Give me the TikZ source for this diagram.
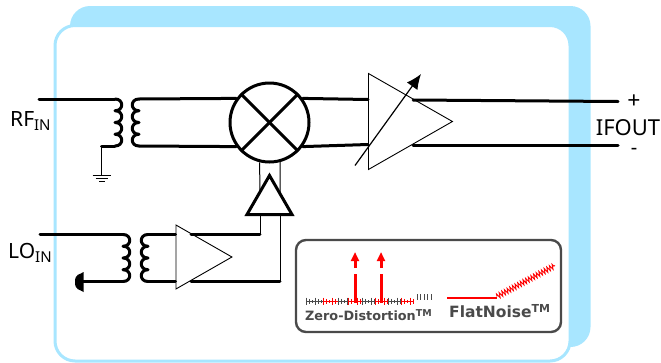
\documentclass[tikz,border=0pt]{standalone}
\usepackage{fontspec}
\setmainfont{Noto Sans}
\newfontfamily\boxfont{DejaVu Sans}
\usetikzlibrary{arrows.meta}
\usetikzlibrary{shapes.geometric}
\usetikzlibrary{decorations.pathmorphing}
\definecolor{chipblue}{HTML}{A8E6FF}
\definecolor{boxgray}{HTML}{4A4A4A}
\newcommand{\insub}[1]{{\fontsize{15}{15}\selectfont\raisebox{-4pt}{#1}}}
\tikzset{
	wire/.style={line width=3pt,line cap=round,line join=round},
	thinwire/.style={line width=1pt},
	amp/.style={draw,line width=.9pt,isosceles triangle,isosceles triangle stretches,inner sep=0pt,anchor=lower side},
	label/.style={inner sep=0pt,font=\fontsize{22}{22}\selectfont},
	boxlabel/.style={inner sep=0pt,text=boxgray,font=\boxfont\bfseries},
	coil/.pic={
		\draw[wire] (0,0)
			.. controls (9,0) and (9,11.75) .. (0,11.75)
			.. controls (9,11.75) and (9,23.5) .. (0,23.5)
			.. controls (9,23.5) and (9,35.25) .. (0,35.25)
			.. controls (9,35.25) and (9,47) .. (0,47);
		\coordinate (-a) at (0,0);
		\coordinate (-b) at (0,47);
	}
}
\begin{document}
\begin{tikzpicture}
	[x=1pt,y=-1pt]
	\useasboundingbox (0,0) rectangle (661,362);
	\fill[chipblue,rounded corners=20pt] (70,6) rectangle (590.5,347);
	\draw[chipblue,fill=white,line width=3pt,rounded corners=20pt] (55,25.5) rectangle (570,361);

	\pic (rfp) at (115,99) {coil};
	\pic[xscale=-1] (rfs) at (139,99) {coil};
	\pic (lop) at (123,234.5) {coil};
	\pic[xscale=-1] (los) at (148,234.5) {coil};

	\node[draw,circle,line width=3pt,minimum size=79pt,inner sep=0pt] (mixer) at (269.5,122.5) {};
	\node[amp,minimum width=96pt,minimum height=84pt] (rfamp) at (368,121.5) {};
	\node[amp,minimum width=64pt,minimum height=56pt] (loamp) at (175.5,257) {};
	\node[amp,line width=3pt,shape border rotate=90,minimum width=45pt,minimum height=39pt] (drv) at (269.5,216) {};

	\coordinate (rfin) at (39,99);
	\coordinate (rfgnd) at (101.5,146);
	\coordinate (rfgndb) at (101.5,175.7);
	\coordinate (loin) at (40,234.5);
	\coordinate (logndb) at (83,281.5);
	\coordinate (ampinp) at (368,99.5);
	\coordinate (ampinn) at (368,144.5);
	\coordinate (ampoutp) at (413,100);
	\coordinate (ampoutn) at (413,145);
	\coordinate (ifp) at (618,101.5);
	\coordinate (ifn) at (618,145);
	\coordinate (loampa) at (191,234.5);
	\coordinate (loampb) at (191,281.5);
	\coordinate (drva) at (260,234.5);
	\coordinate (drvb) at (280,281.5);
	\coordinate (drvc) at (260,216);
	\coordinate (drvd) at (280,216);
	\coordinate (drve) at (260,193.5);
	\coordinate (drvf) at (280,195);
	\coordinate (loampi) at (175.5,234.5);
	\coordinate (loampj) at (175.5,281.5);
	\coordinate (tunea) at (355,165.5);
	\coordinate (tuneb) at (421,74);

	\foreach \from/\to in
	{rfin/rfp-a, rfgnd/rfp-b, rfs-a/mixer.144, rfs-b/mixer.216, mixer.36/ampinp, mixer.-36/ampinn,
	ampoutp/ifp, ampoutn/ifn, loin/lop-a, logndb/lop-b, los-a/loampi, los-b/loampj, loampa/drva, loampb/drvb}
	\draw[wire] (\from) -- (\to);

	\foreach \from/\to in
	{rfgnd/rfgndb, mixer.256/drve, mixer.285/drvf, drvc/drva, drvd/drvb}
	\draw[thinwire] (\from) -- (\to);

	\draw[wire,line cap=butt] (mixer.135) -- (mixer.-45);
	\draw[wire,line cap=butt] (mixer.45) -- (mixer.-135);
	\draw[line width=1.2pt,-{Latex[length=15pt,width=13pt]}] (tunea) -- (tuneb);

	% grounds
	\draw[thinwire] (92.5,175.7) -- (111,175.7) (95.7,178.5) -- (107.7,178.5) (99,181.3) -- (105,181.3);
	\fill (83.5,272) -- (83.5,292) .. controls (80,289) and (75,291) .. (75,282) .. controls (75,273) and (80,275) .. (83.5,272) -- cycle;

	\node[label,anchor=base west,font=\fontsize{21}{21}\selectfont] (rflabel) at (10,126) {RF\insub{IN}};
	\node[label,anchor=base west,font=\fontsize{21}{21}\selectfont] (lolabel) at (8,258.5) {LO\insub{IN}};
	\node[label,anchor=base,font=\fontsize{23}{23}\selectfont,text height=12pt,text depth=0pt] (plus) at (634,108) {+};
	\node[label,anchor=base,text height=15pt,text depth=0pt] (ifout) at (628,135) {IFOUT};
	\node[label,anchor=base,font=\fontsize{20}{20}\selectfont,text height=5pt,text depth=0pt] (minus) at (634,154) {-};

	% feature box
	\draw[boxgray,line width=2.4pt,rounded corners=10pt] (296,240) rectangle (561,332);
	\foreach \a/\b/\c in {306/323/boxgray, 323/338/red, 338/348/boxgray, 348/362/red, 362/375/boxgray, 375/388/red, 388/401/boxgray, 401/414/red}{
		\draw[\c,line width=.7pt] (\a,301.5) -- (\b,301.5);
		\foreach \x [count=\i] in {\a,\the\numexpr\a+3\relax,...,\b}{
			\pgfmathsetmacro{\tick}{1.5+mod(\i*2,3)*1.2}
			\draw[\c,line width=.8pt] (\x,301.5-\tick) -- (\x,301.5+\tick);
		}
	}
	\foreach \x in {417,420.5,...,431}
	\draw[boxgray,line width=.8pt] (\x,294) -- (\x,300);
	\draw[red,line width=3pt] (355,303) -- (355,274);
	\draw[red,line width=3pt] (381,303) -- (381,274);
	\draw[red,line width=3pt,-{Triangle[length=9pt,width=8pt]}] (355,268) -- (355,252);
	\draw[red,line width=3pt,-{Triangle[length=9pt,width=8pt]}] (381,268) -- (381,252);
	\draw[red,line width=2.5pt] (447,298) -- (497,298);
	\draw[red,line width=.9pt,decorate,decoration={zigzag,amplitude=2.5pt,segment length=3pt}] (497,296.5) -- (555,265.5);
	\node[boxlabel,anchor=base west,font=\boxfont\bfseries\fontsize{12.8}{13}\selectfont] (zerolabel) at (305,320.5) {Zero-Distortion\raisebox{4pt}{\fontsize{9.5}{10}\selectfont TM}};
	\node[boxlabel,anchor=base west,font=\boxfont\bfseries\fontsize{15.5}{16}\selectfont] (flatlabel) at (449,317.5) {FlatNoise\raisebox{5pt}{\fontsize{11}{11}\selectfont TM}};
\end{tikzpicture}
\end{document}
